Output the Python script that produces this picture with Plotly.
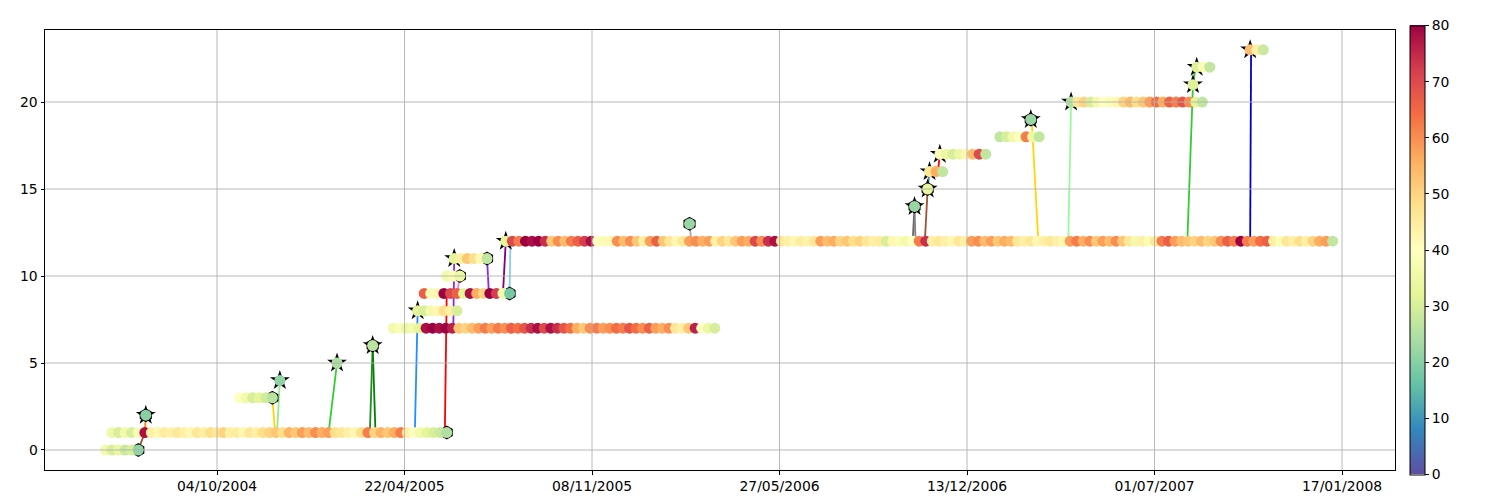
import plotly.graph_objects as go
import pandas as pd

# ---------------- data ----------------
STEP_DAYS = 7  # sampling interval of each row's series

row_levels = list(range(24))
row_starts = [
    "2004-06-07", "2004-06-14", "2004-07-20", "2004-10-28", "2004-12-10",
    "2005-02-09", "2005-03-19", "2005-04-10", "2005-05-06", "2005-05-13",
    "2005-06-06", "2005-06-14", "2005-08-08", "2006-02-20", "2006-10-18",
    "2006-11-01", "2006-11-03", "2006-11-14", "2007-01-17", "2007-02-19",
    "2007-04-03", "2007-08-11", "2007-08-15", "2007-10-11",
]

vals_row0 = [36, 30, 34, 28, 30, 21]
vals_row1 = [35, 30, 36, 30, 38, 78, 44, 42, 45, 43, 46, 44, 42, 46, 44, 48, 46, 50,
             44, 45, 42, 46, 44, 48, 50, 52, 48, 55, 52, 58, 54, 60, 56, 58, 48, 46,
             44, 42, 48, 62, 50, 55, 52, 56, 62, 44, 40, 36, 32, 30, 28, 25]
vals_row2 = [20]
vals_row3 = [40, 36, 30, 32, 29, 26]
vals_row4 = [21]
vals_row5 = [24]
vals_row6 = [26]
vals_row7 = [36, 38, 34, 36, 32, 78, 80, 78, 80, 76, 52, 50, 54, 58, 62, 58, 62, 60,
             66, 64, 68, 74, 78, 70, 78, 74, 68, 64, 56, 52, 60, 62, 58, 60, 64, 62,
             68, 64, 60, 66, 58, 56, 60, 46, 44, 52, 76, 40, 34, 30]
vals_row8 = [32, 30, 36, 42, 48, 44, 30]
vals_row9 = [66, 38, 42, 80, 70, 66, 32, 78, 56, 50, 80, 72, 36, 18]
vals_row10 = [36, 38, 34]
vals_row11 = [32, 44, 52, 48, 42, 27]
vals_row12 = [32, 70, 62, 80, 78, 80, 74, 52, 60, 54,
              62, 66, 72, 78, 40, 38, 42, 60, 54, 60,
              52, 44, 58, 66, 52, 46, 42, 46, 58, 60,
              56, 58, 44, 50, 46, 52, 58, 56, 70, 60,
              74, 78, 46, 44, 42, 45, 43, 46, 58, 54,
              56, 50, 52, 48, 50, 46, 44, 45, 30, 42,
              38, 36, 40, 62, 74, 44, 46, 44, 42, 46,
              44, 58, 60, 54, 58, 52, 56, 54, 46, 44,
              46, 42, 44, 46, 44, 42, 58, 62, 56, 60,
              52, 58, 54, 60, 52, 46, 36, 44, 38, 46,
              62, 66, 58, 54, 52, 50, 54, 50, 52, 60,
              66, 62, 80, 62, 58, 64, 66, 44, 38, 46,
              44, 48, 44, 50, 56, 58, 27]
vals_row13 = [22]
vals_row14 = [22]
vals_row15 = [33]
vals_row16 = [46, 56, 27]
vals_row17 = [38, 34, 30, 34, 42, 54, 70, 27]
vals_row18 = [27, 30, 36, 40, 62, 34, 27]
vals_row19 = [22]
vals_row20 = [25, 46, 50, 30, 36, 40, 38, 42, 50, 54, 48, 52, 58, 64, 56, 66, 62, 68,
              60, 32, 27]
vals_row21 = [31]
vals_row22 = [31, 38, 27]
vals_row23 = [54, 44, 28]

row_values = [vals_row0, vals_row1, vals_row2, vals_row3, vals_row4, vals_row5,
              vals_row6, vals_row7, vals_row8, vals_row9, vals_row10, vals_row11,
              vals_row12, vals_row13, vals_row14, vals_row15, vals_row16, vals_row17,
              vals_row18, vals_row19, vals_row20, vals_row21, vals_row22, vals_row23]

# rows whose first point carries a star, rows whose last point carries a hexagon
star_rows = [2, 4, 5, 6, 8, 11, 12, 14, 15, 16, 17, 19, 20, 21, 22, 23]
hex_rows = [0, 1, 2, 3, 6, 9, 10, 11, 13, 14, 15, 19]

# connecting links
link_from_dates = ["2004-07-12", "2004-07-19", "2004-12-02", "2004-12-07", "2005-01-31",
                   "2005-03-16", "2005-03-22", "2005-05-03", "2005-06-04", "2005-06-13",
                   "2005-06-17", "2005-07-19", "2005-08-05", "2005-08-12", "2006-02-22",
                   "2006-10-16", "2006-10-19", "2006-10-29", "2006-11-01", "2006-11-12",
                   "2007-02-20", "2007-03-31", "2007-08-05", "2007-08-11", "2007-10-11"]
link_from_levels = [0, 1, 3, 1, 1, 1, 1, 1, 1, 7, 9, 11, 9, 9, 12, 12, 12, 12, 15, 16,
                    19, 12, 12, 21, 12]
link_to_dates = ["2004-07-19", "2004-07-20", "2004-12-05", "2004-12-10", "2005-02-09",
                 "2005-03-19", "2005-03-19", "2005-05-06", "2005-06-06", "2005-06-14",
                 "2005-06-20", "2005-07-21", "2005-08-08", "2005-08-13", "2006-02-20",
                 "2006-10-18", "2006-10-18", "2006-11-01", "2006-11-03", "2006-11-14",
                 "2007-02-27", "2007-04-03", "2007-08-11", "2007-08-14", "2007-10-12"]
link_to_levels = [1, 2, 1, 4, 5, 6, 6, 8, 9, 11, 10, 9, 12, 12, 13, 14, 14, 15, 16, 17,
                  12, 20, 21, 22, 23]
link_colors = ["#a0522d", "#ff8c00", "#ffd700", "#90ee90", "#32cd32", "#228b22",
               "#008000", "#1e90ff", "#ff0000", "#8a2be2", "#ee82ee", "#8a2be2",
               "#800080", "#87cefa", "#a9a9a9", "#696969", "#808080", "#a0522d",
               "#4682b4", "#ff0000", "#ffd700", "#98fb98", "#32cd32", "#32cd32",
               "#0000cd"]

tick_dates = ["2004-10-04", "2005-04-22", "2005-11-08", "2006-05-27", "2006-12-13",
              "2007-07-01", "2008-01-17"]
tick_labels = ["04/10/2004", "22/04/2005", "08/11/2005", "27/05/2006", "13/12/2006",
               "01/07/2007", "17/01/2008"]
y_ticks = [0, 5, 10, 15, 20]
cbar_ticks = [0, 10, 20, 30, 40, 50, 60, 70, 80]

# ---------------- build ----------------
spectral_r = ["#5e4fa2", "#3288bd", "#66c2a5", "#abdda4", "#e6f598", "#ffffbf",
              "#fee08b", "#fdae61", "#f46d43", "#d53e4f", "#9e0142"]
colorscale = [[i / 10, c] for i, c in enumerate(spectral_r)]

row_dates = []
for start, vals in zip(row_starts, row_values):
    s = pd.Timestamp(start)
    row_dates.append([s + pd.Timedelta(days=STEP_DAYS * i) for i in range(len(vals))])

all_x, all_y, all_c = [], [], []
for lvl, dts, vals in zip(row_levels, row_dates, row_values):
    all_x += dts
    all_y += [lvl] * len(vals)
    all_c += vals

FONT = "DejaVu Sans"
fig = go.Figure()

for fd, fl, td, tl, col in zip(link_from_dates, link_from_levels, link_to_dates,
                               link_to_levels, link_colors):
    fig.add_trace(go.Scatter(x=[fd, td], y=[fl, tl], mode="lines",
                             line=dict(color=col, width=1.8), showlegend=False,
                             hoverinfo="skip"))

fig.add_trace(go.Scatter(
    x=[row_dates[r][0] for r in star_rows], y=[row_levels[r] for r in star_rows],
    mode="markers", marker=dict(symbol="star", size=15, color="black",
                                line=dict(width=0)), showlegend=False))
fig.add_trace(go.Scatter(
    x=[row_dates[r][-1] for r in hex_rows], y=[row_levels[r] for r in hex_rows],
    mode="markers", marker=dict(symbol="hexagon", size=14, color="black",
                                line=dict(width=0)), showlegend=False))

fig.add_trace(go.Scatter(
    x=all_x, y=all_y, mode="markers",
    marker=dict(size=11, color=all_c, colorscale=colorscale, cmin=0, cmax=80,
                line=dict(width=0),
                colorbar=dict(
                    thickness=15, len=449, lenmode="pixels", y=0.5, yanchor="middle",
                    x=1.0111, xanchor="left", xpad=0, ypad=0,
                    outlinewidth=1, outlinecolor="black",
                    ticks="outside", ticklen=4, tickwidth=0.8, tickcolor="black",
                    tickvals=cbar_ticks, tickfont=dict(family=FONT, size=13.9,
                                                       color="black"))),
    showlegend=False))

shapes = []
for d in tick_dates:
    shapes.append(dict(type="line", xref="x", yref="paper", x0=d, x1=d, y0=0, y1=1,
                       line=dict(color="#b0b0b0", width=0.9), layer="above"))
for v in y_ticks:
    shapes.append(dict(type="line", xref="paper", yref="y", x0=0, x1=1, y0=v, y1=v,
                       line=dict(color="#b0b0b0", width=0.9), layer="above"))

fig.update_layout(
    width=1500, height=500,
    margin=dict(l=45, r=105, t=30, b=30),
    plot_bgcolor="white", paper_bgcolor="white",
    font=dict(family=FONT, size=13.9, color="black"),
    shapes=shapes,
    xaxis=dict(type="date", range=["2004-04-03 12:00", "2008-03-13 12:00"],
               tickvals=tick_dates, ticktext=tick_labels, showgrid=False,
               ticks="outside", ticklen=3.5, tickwidth=0.8, tickcolor="black",
               showline=True, mirror=True, linecolor="black", linewidth=1,
               zeroline=False, automargin=False),
    yaxis=dict(range=[-1.15, 24.14], tickvals=y_ticks, showgrid=False,
               ticks="outside", ticklen=3.5, tickwidth=0.8, tickcolor="black",
               showline=True, mirror=True, linecolor="black", linewidth=1,
               zeroline=False, automargin=False),
)

fig.write_html("out.html")
